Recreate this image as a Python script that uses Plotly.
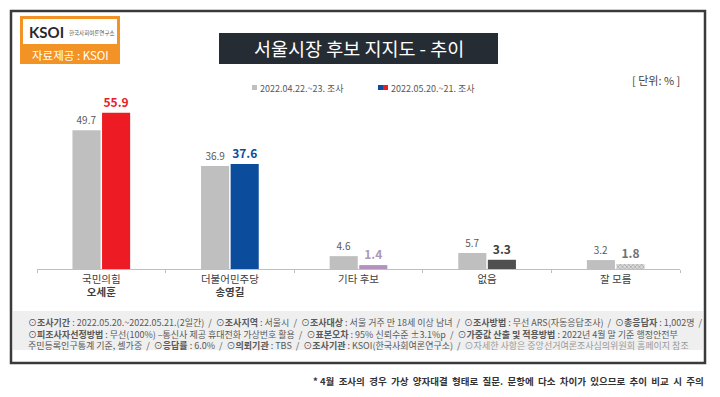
import plotly.graph_objects as go

categories = ["국민의힘<br><b>오세훈</b>", "더불어민주당<br><b>송영길</b>", "기타 후보", "없음", "잘 모름"]
series_names = ["2022.04.22.~23. 조사", "2022.05.20.~21. 조사"]
april_values = [49.7, 36.9, 4.6, 5.7, 3.2]
may_values = [55.9, 37.6, 1.4, 3.3, 1.8]

may_colors = ["#ed1c24", "#0b4c9c", "#b592bd", "#505050", "#d9d9d9"]
may_text_colors = ["#e8202a", "#0b4c9c", "#ad98b8", "#404040", "#707070"]
may_patterns = ["", "", "", "", "x"]

FONT = "Noto Sans CJK KR"
OFF = 8  # page body margin
W, H = 720 - OFF, 397 - OFF

def px(x):
    return (x - OFF) / W

def py(y):
    return 1 - (y - OFF) / H

fig = go.Figure()
fig.add_trace(go.Bar(
    x=categories, y=april_values, name=series_names[0],
    marker=dict(color="#bfbfbf", line=dict(width=0)),
    texttemplate="%{y:.1f}", textposition="outside",
    textfont=dict(size=10, color="#595959", family=FONT),
    cliponaxis=False,
))
fig.add_trace(go.Bar(
    x=categories, y=may_values, name=series_names[1],
    marker=dict(color=may_colors, line=dict(width=0),
                pattern=dict(shape=may_patterns, fgcolor="#8c8c8c", bgcolor="#e6e6e6", size=3, solidity=0.3)),
    texttemplate="<b>%{y:.1f}</b>", textposition="outside",
    textfont=dict(size=12, color=may_text_colors, family=FONT),
    cliponaxis=False,
))

def rect(x0, y0, x1, y1, fill, line=None):
    return dict(type="rect", xref="paper", yref="paper", x0=px(x0), x1=px(x1), y0=py(y1), y1=py(y0),
                line=line or dict(width=0), fillcolor=fill, layer="below")

shapes = [
    rect(11, 11, 705, 363, "rgba(0,0,0,0)", dict(color="#3a3a3a", width=2.5)),
    rect(20, 16, 120, 64, "#f39325"),
    rect(23, 19, 117, 44, "#ffffff"),
    rect(219, 33, 498, 64, "#262c33"),
    rect(13, 311, 703, 350, "#efefef"),
    # legend swatches
    rect(252, 85, 257, 90, "#bfbfbf"),
    rect(378, 85, 383, 90, "#0b4c9c"),
    rect(383, 85, 388, 90, "#ed1c24"),
]

def b(t):
    return f"<b>{t}</b>"

line1 = (f"⊙{b('조사기간')} : 2022.05.20.~2022.05.21.(2일간)  /  ⊙{b('조사지역')} : 서울시  /  ⊙{b('조사대상')} : 서울 거주 만 18세 이상 남녀  /  "
         f"⊙{b('조사방법')} : 무선 ARS(자동응답조사)  /  ⊙{b('총응답자')} : 1,002명  /")
line2 = (f"⊙{b('피조사자선정방법')} : 무선(100%) –통신사 제공 휴대전화 가상번호 활용  /  ⊙{b('표본오차')} : 95% 신뢰수준 ±3.1%p  /  "
         f"⊙{b('가중값 산출 및 적용방법')} : 2022년 4월 말 기준 행정안전부")
line3 = (f"주민등록인구통계 기준, 셀가중  /  ⊙{b('응답률')} : 6.0%  /  ⊙{b('의뢰기관')} : TBS  /  ⊙{b('조사기관')} : KSOI(한국사회여론연구소)  /  "
         f"<span style='color:#9a9a9a'>⊙자세한 사항은 중앙선거여론조사심의위원회 홈페이지 참조</span>")

def ann(text, x, y, size, color, xanchor="left", family=FONT):
    return dict(text=text, x=px(x), y=py(y), xanchor=xanchor, yanchor="middle", align="left",
                font=dict(size=size, color=color, family=family), showarrow=False,
                xref="paper", yref="paper")

annotations = [
    ann("<b>KSOI</b>", 27, 32, 15, "#2b2b2b", family="Lato"),
    ann("한국사회여론연구소", 67, 32.5, 5.5, "#555555"),
    ann("자료제공 : KSOI", 70, 54.5, 11.5, "#ffffff", xanchor="center"),
    ann("서울시장 후보 지지도 - 추이", 358.5, 48.5, 18.5, "#ffffff", xanchor="center"),
    ann("[ 단위: % ]", 682, 80, 11, "#404040", xanchor="right"),
    ann(series_names[0], 258, 88, 9, "#595959"),
    ann(series_names[1], 389, 88, 9, "#595959"),
    ann(line1 + "<br>" + line2 + "<br>" + line3, 26, 334, 9, "#595959"),
    ann("<b>* 4월  조사의  경우  가상  양자대결  형태로  질문.  문항에  다소  차이가  있으므로  추이  비교  시  주의</b>",
        706, 381, 9.5, "#333333", xanchor="right"),
]

fig.update_layout(
    width=W, height=H,
    margin=dict(l=0, r=0, t=0, b=0),
    paper_bgcolor="#ffffff", plot_bgcolor="#ffffff",
    font=dict(family=FONT, color="#595959"),
    barmode="group", bargap=0.54, bargroupgap=0.05,
    showlegend=False,
    xaxis=dict(domain=[px(37), px(680)], showline=True, linecolor="#bfbfbf", linewidth=1,
               ticks="outside", tickson="boundaries", ticklen=3, tickcolor="#bfbfbf",
               tickfont=dict(size=10.5, color="#404040", family=FONT), showgrid=False,
               fixedrange=True),
    yaxis=dict(domain=[py(269), py(101.4)], range=[0, 60], visible=False, showgrid=False),
    shapes=shapes, annotations=annotations,
)

fig.write_html("out.html")
